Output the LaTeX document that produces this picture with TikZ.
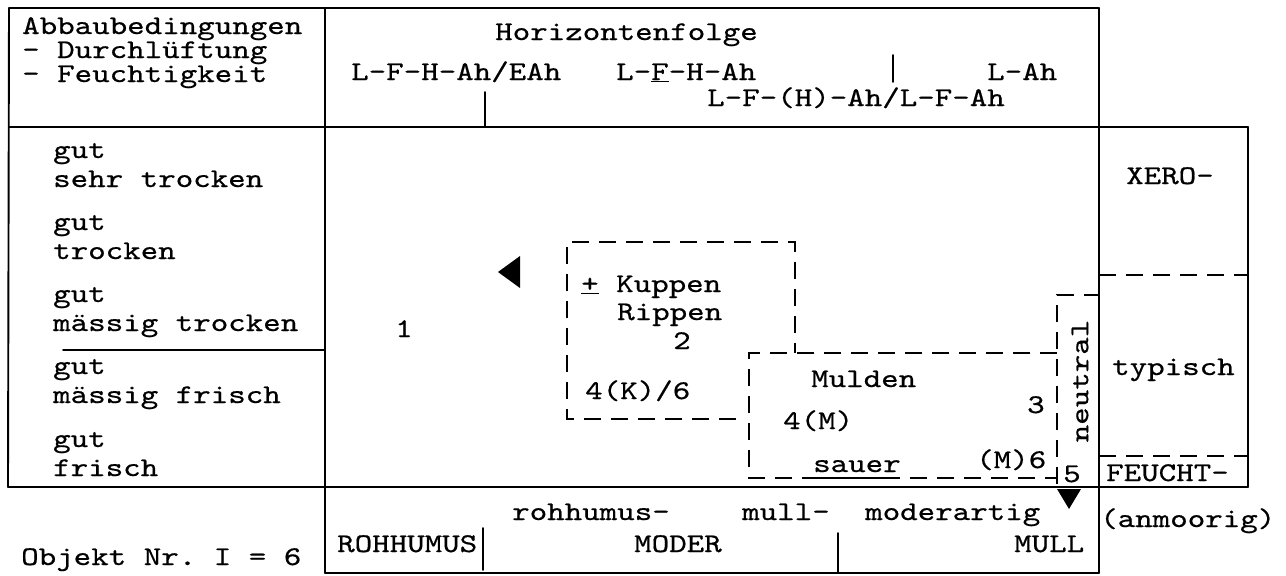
\documentclass[tikz,border=0pt]{standalone}
\usepackage{fontspec}
% typewriter face, widened to a 10-pitch typewriter cell and darkened a little
\newfontfamily\twfont{lmmono10-regular.otf}[FakeStretch=1.235,FakeBold=0.6]
\newcommand{\typewr}{\twfont\fontsize{27}{27}\selectfont}
\newcommand{\tw}[1]{#1}
\begin{document}
\begin{tikzpicture}[x=1pt,y=-1pt,
  frame/.style={line width=1.9pt, line cap=round},
  dashline/.style={line width=2.6pt, dash pattern=on 17pt off 10pt},
  txt/.style={anchor=base west, inner sep=0pt, font=\typewr}]
\useasboundingbox (0,0) rectangle (1286,576);

% ---- solid frame of the table ----
\draw[frame] (9,8) -- (1099,8);
\draw[frame] (9,8) -- (8,487);
\draw[frame] (325,8) -- (325,573);
\draw[frame] (1099,8) -- (1099,573);
\draw[frame] (9,127) -- (1248,127);
\draw[frame] (8,487) -- (1248,487);
\draw[frame] (325,573) -- (1099,573);
\draw[frame] (1248,127) -- (1248,487);
\draw[frame] (63,350) -- (325,350);

% ---- short separator ticks ----
\draw[frame] (485,92) -- (485,127);
\draw[frame] (893,55) -- (893,82);
\draw[frame] (483,528) -- (483,570);
\draw[frame] (838,533) -- (838,573);

% ---- dashed divisions ----
\draw[dashline] (1099,275) -- (1248,275);
\draw[dashline] (1099,456) -- (1248,456);
\draw[dashline] (736,419) -- (567,419) -- (567,242) -- (795,242) -- (795,353);
\draw[dashline] (1057,353) -- (749,353) -- (749,478) -- (1057,478);
\draw[dashline] (1057,484) -- (1057,295) -- (1099,295);

% ---- markers ----
\fill (498,272) -- (520,256) -- (520,288) -- cycle;
\fill (1057,489) -- (1081,489) -- (1069,509) -- cycle;

% ---- header ----
\node[txt] (hA) at (22,34) {\tw{Abbaubedingungen}};
\node[txt] (hD) at (22,58) {\tw{- Durchlüftung}};
\node[txt] (hF) at (22,82) {\tw{- Feuchtigkeit}};
\node[txt] (hH) at (495,40) {\tw{Horizontenfolge}};
\node[txt] (h1) at (351,80) {\tw{L-F-H-Ah/EAh}};
\node[txt] (h2) at (616,80) {\tw{L-\underline{F}-H-Ah}};
\node[txt] (h3) at (987,80) {\tw{L-Ah}};
\node[txt] (h4) at (707,106) {\tw{L-F-(H)-Ah/L-F-Ah}};

% ---- left column ----
\node[txt] (g1) at (53,158) {\tw{gut}};
\node[txt] (c1) at (53,187) {\tw{sehr trocken}};
\node[txt] (g2) at (53,230) {\tw{gut}};
\node[txt] (c2) at (53,259) {\tw{trocken}};
\node[txt] (g3) at (53,302) {\tw{gut}};
\node[txt] (c3) at (53,331) {\tw{mässig trocken}};
\node[txt] (g4) at (53,374) {\tw{gut}};
\node[txt] (c4) at (53,403) {\tw{mässig frisch}};
\node[txt] (g5) at (53,447) {\tw{gut}};
\node[txt] (c5) at (53,476) {\tw{frisch}};

% ---- field ----
\node[txt] (n1) at (395,337) {\tw{1}};
\node[txt] (kup) at (581,292) {\tw{\underline{+} Kuppen}};
\node[txt] (rip) at (617,320) {\tw{Rippen}};
\node[txt] (n2) at (673,349) {\tw{2}};
\node[txt] (k46) at (585,399) {\tw{4(K)/6}};
\node[txt] (mul) at (811,387) {\tw{Mulden}};
\node[txt] (m4) at (783,429) {\tw{4(M)}};
\node[txt] (n3) at (1027,413) {\tw{3}};
\node[txt] (sau) at (813,472) {\tw{sauer}};
\draw[line width=2.6pt] (813,478) -- (900,478);
\node[txt] (m6) at (976,468) {\tw{(M)6}};
\node[txt] (n5) at (1063,482) {\tw{5}};
\node[anchor=center, inner sep=0pt, font=\typewr, rotate=90] (neu) at (1080,381) {\tw{neutral}};

% ---- right column ----
\node[txt] (xer) at (1126,184) {\tw{XERO-}};
\node[txt] (typ) at (1112,375) {\tw{typisch}};
\node[txt] (feu) at (1106,481) {\tw{FEUCHT-}};
\node[txt] (anm) at (1100,527) {\tw{(anmoorig)}};

% ---- bottom row ----
\node[txt] (b1) at (512,520) {\tw{rohhumus-}};
\node[txt] (b2) at (742,520) {\tw{mull-}};
\node[txt] (b3) at (865,520) {\tw{moderartig}};
\node[txt] (b4) at (337,552) {\tw{ROHHUMUS}};
\node[txt] (b5) at (634,552) {\tw{MODER}};
\node[txt] (b6) at (1014,552) {\tw{MULL}};
\node[txt] (obj) at (21,565) {\tw{Objekt Nr.\ I = 6}};
\end{tikzpicture}
\end{document}
